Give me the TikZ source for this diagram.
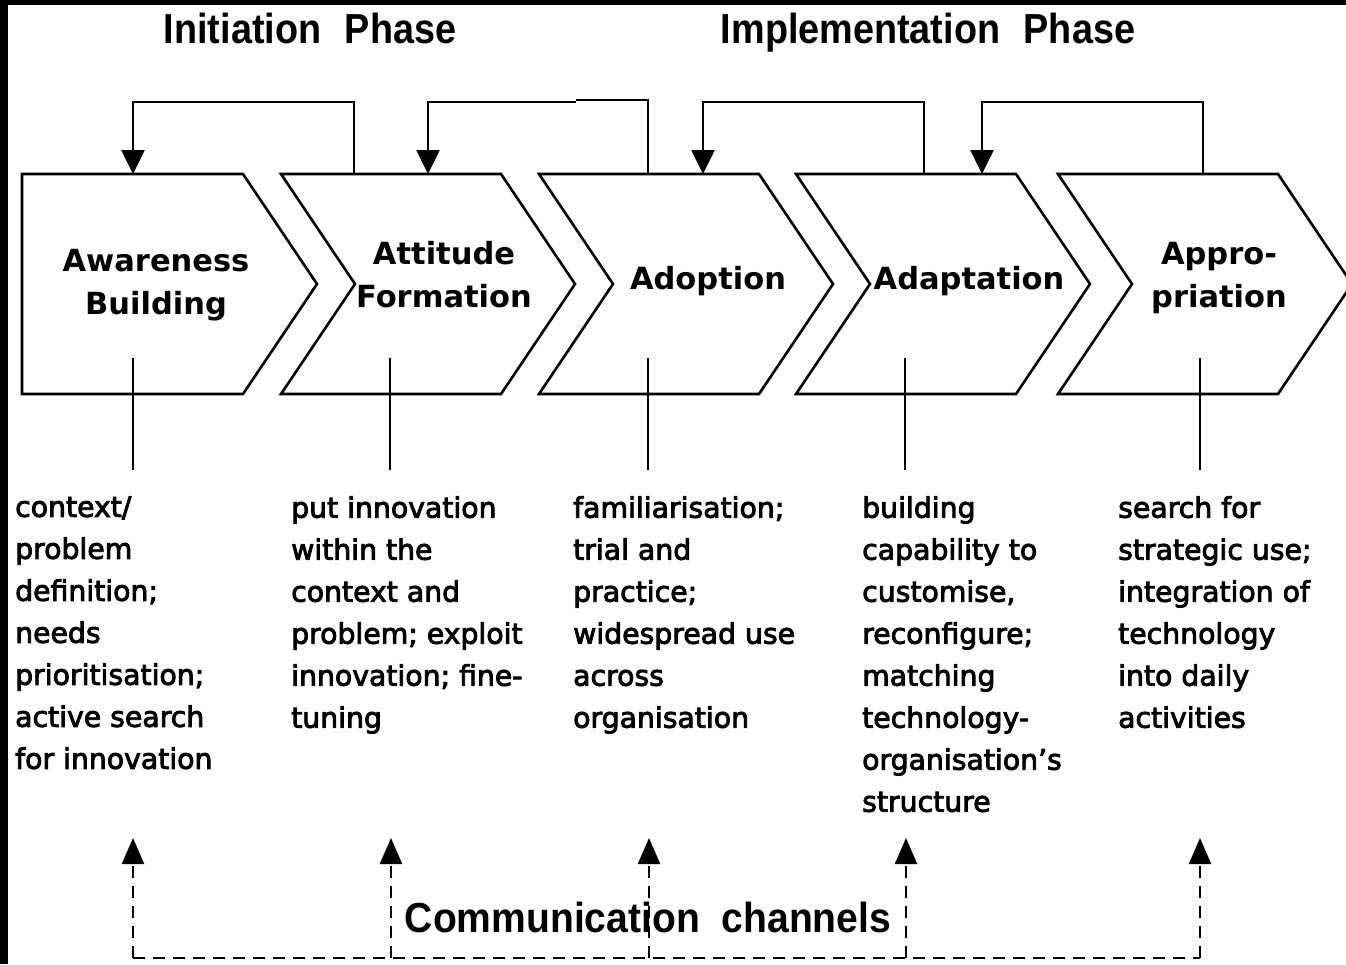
\documentclass[tikz,border=0pt]{standalone}
\usepackage{fontspec}
\usetikzlibrary{arrows.meta}
\newfontfamily\bodyfont{DejaVu Sans}
\newfontfamily\descfont{DejaVu Sans}[FakeBold=3]
\newfontfamily\headfont{Liberation Sans}[FakeStretch=0.9]
\newfontfamily\commfont{Liberation Sans}[FakeStretch=0.93]

\tikzset{
  stage/.style={draw=black, line width=2.6pt, line join=miter, fill=white},
  stagelabel/.style={anchor=north, inner sep=0pt, align=center,
    font=\bodyfont\bfseries\fontsize{30.5}{43}\selectfont,
    execute at begin node=\rule{0pt}{24pt}},
  phase/.style={anchor=base, inner sep=0pt, font=\headfont\bfseries\fontsize{42}{46}\selectfont},
  activity/.style={anchor=north west, inner sep=0pt, align=left,
    font=\descfont\fontsize{28.3}{42}\selectfont,
    execute at begin node=\rule{0pt}{22pt}},
  feedback/.style={line width=2.6pt, -{Triangle[width=23pt,length=24pt]}},
  link/.style={line width=2.6pt},
  channel/.style={line width=2.4pt, dash pattern=on 12pt off 8pt,
    -{Triangle[width=22pt,length=26pt]}},
  channelbase/.style={line width=2.4pt, dash pattern=on 12pt off 8pt},
}

\begin{document}
\begin{tikzpicture}[x=1pt, y=-1pt]
\useasboundingbox (0,0) rectangle (1346,964);
\fill[white] (0,0) rectangle (1346,964);
% dark frame on the top and left edges
\fill[black] (0,0) rectangle (1346,5);
\fill[black] (0,0) rectangle (8,964);

% phase headings
\node[phase] (init) at (310,43) {Initiation\hspace{13pt} Phase};
\node[phase] (impl) at (928,43) {Implementation\hspace{13pt} Phase};

% the five stage chevrons
\draw[stage] (22,174) -- (243,174) -- (317,284) -- (243,394) -- (22,394) -- cycle;
\foreach \L in {281,539,796,1058}{
  \draw[stage] (\L,174) -- ({\L+220},174) -- ({\L+294},284) -- ({\L+220},394)
    -- (\L,394) -- ({\L+74},284) -- cycle;
}

\node[stagelabel] (aware) at (156,249) {Awareness\\Building};
\node[stagelabel] (attit) at (444,241) {Attitude\\Formation};
\node[stagelabel] (adopt) at (708,265) {Adoption};
\node[stagelabel] (adapt) at (969,265) {Adaptation};
\node[stagelabel] (appro) at (1219,242) {Appro-\\priation};

% anchor points on the chevron edges
\coordinate (t1in) at (133,174);
\coordinate (t2out) at (354,174);
\coordinate (t2in) at (428,174);
\coordinate (t3out) at (648,174);
\coordinate (t3in) at (703,174);
\coordinate (t4out) at (924,174);
\coordinate (t4in) at (982,174);
\coordinate (t5out) at (1203,174);

% feedback loops over the chevrons
\draw[feedback] (t2out) -- (354,102) -- (133,102) -- (t1in);
\draw[link] (t3out) -- (648,100) -- (576,100);
\draw[feedback] (576,102) -- (428,102) -- (t2in);
\draw[feedback] (t4out) -- (924,102) -- (703,102) -- (t3in);
\draw[feedback] (t5out) -- (1203,102) -- (982,102) -- (t4in);

% activity descriptions
\node[activity] (act1) at (15,496) {context/\\problem\\definition;\\needs\\prioritisation;\\active search\\for innovation};
\node[activity] (act2) at (291,496) {put innovation\\within the\\context and\\problem; exploit\\innovation; fine-\\tuning};
\node[activity] (act3) at (573,496) {familiarisation;\\trial and\\practice;\\widespread use\\across\\organisation};
\node[activity] (act4) at (862,496) {building\\capability to\\customise,\\reconfigure;\\matching\\technology-\\organisation’s\\structure};
\node[activity] (act5) at (1118,496) {search for\\strategic use;\\integration of\\technology\\into daily\\activities};

% stems from each chevron down to its description
\foreach \x/\n in {133/1,390/2,648/3,905/4,1200/5}{
  \coordinate (s\n a) at (\x,358);
  \coordinate (s\n b) at (\x,470);
  \draw[link] (s\n a) -- (s\n b);
}

% communication channels
\node[phase, font=\commfont\bfseries\fontsize{42}{46}\selectfont] (comm) at (648,932) {Communication\hspace{11pt} channels};
\coordinate (cL) at (133,958);
\coordinate (cR) at (1200,958);
\draw[channelbase] (cL) -- (cR);
\foreach \x/\n in {133/1,391/2,649/3,906/4,1200/5}{
  \coordinate (c\n b) at (\x,958);
  \coordinate (c\n t) at (\x,838);
  \draw[channel] (c\n b) -- (c\n t);
}
\end{tikzpicture}
\end{document}
